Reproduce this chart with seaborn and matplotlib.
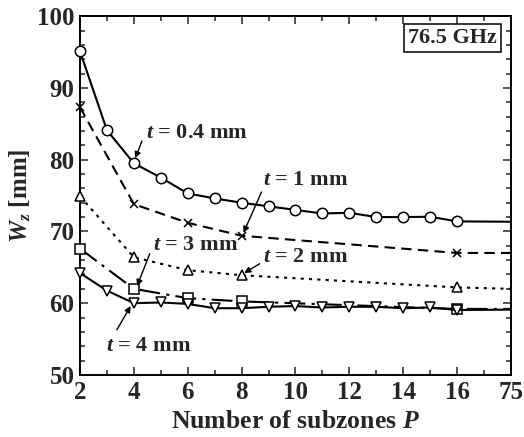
import numpy as np
import pandas as pd
import matplotlib
matplotlib.use("Agg")
import matplotlib.pyplot as plt
import seaborn as sns
from matplotlib.ticker import FixedLocator, MultipleLocator

sns.set_theme(style="ticks")
plt.rcParams['font.family'] = ['Liberation Serif', 'DejaVu Serif']
plt.rcParams['font.weight'] = 'bold'
plt.rcParams['mathtext.fontset'] = 'custom'
plt.rcParams['mathtext.it'] = 'Liberation Serif:italic:bold'
plt.rcParams['mathtext.rm'] = 'Liberation Serif:bold'
plt.rcParams['mathtext.bf'] = 'Liberation Serif:bold'

# ---- data ----
P_full = [2, 3, 4, 5, 6, 7, 8, 9, 10, 11, 12, 13, 14, 15, 16, 75]
P_sparse = [2, 4, 6, 8, 16, 75]
w_t04 = [95.1, 84.1, 79.5, 77.5, 75.3, 74.6, 74.0, 73.5, 73.0, 72.5, 72.6, 72.0, 72.0, 72.05, 71.4, 71.35]
w_t1 = [87.3, 73.8, 71.2, 69.4, 67.0, 67.0]
w_t2 = [74.9, 66.4, 64.6, 63.9, 62.2, 62.0]
w_t3 = [67.6, 62.0, 60.7, 60.25, 59.2, 59.2]
w_t4 = [64.2, 61.75, 60.0, 60.1, 59.9, 59.3, 59.3, 59.5, 59.6, 59.4, 59.5, 59.5, 59.3, 59.4, 59.05, 59.1]
xtick_labels = ["2", "4", "6", "8", "10", "12", "14", "16", "75"]
xtick_values = [2, 4, 6, 8, 10, 12, 14, 16, 75]


def axis_pos(p):
    # broken axis: 2..16 linear, then 75 placed two steps after 16
    return p if p <= 16 else 18


series = [
    ("0.4", P_full, w_t04, 'o', '-', 7.5),
    ("1", P_sparse, w_t1, 'x', (0, (5, 3)), 6),
    ("2", P_sparse, w_t2, '^', (0, (1.5, 2.5)), 7),
    ("3", P_sparse, w_t3, 's', (0, (10, 3, 1.5, 3)), 6.5),
    ("4", P_full, w_t4, 'v', '-', 7),
]

fig, ax = plt.subplots(figsize=(5.24, 4.37), dpi=100)
fig.subplots_adjust(left=0.1527, right=0.975, top=0.963, bottom=0.142)

for name, P, W, mk, ls, ms in series:
    df = pd.DataFrame({"x": [axis_pos(p) for p in P], "W": W})
    n = len(df)
    sns.lineplot(data=df, x="x", y="W", ax=ax, color='black', linewidth=1.5,
                 linestyle=ls, marker=mk, markersize=ms, markerfacecolor='white',
                 markeredgecolor='black', markeredgewidth=1.1,
                 markevery=list(range(n - 1)), clip_on=False, zorder=3)

ax.set_xlim(2, 18)
ax.set_ylim(50, 100)
ax.xaxis.set_major_locator(FixedLocator([axis_pos(v) for v in xtick_values]))
ax.set_xticklabels(xtick_labels)
ax.xaxis.set_minor_locator(MultipleLocator(1))
ax.yaxis.set_major_locator(MultipleLocator(10))
ax.yaxis.set_minor_locator(MultipleLocator(2))
ax.tick_params(which='both', direction='in', top=True, right=True, width=1.1)
ax.tick_params(which='major', length=6, labelsize=18, pad=4)
ax.tick_params(which='minor', length=3.5)
for lab in ax.get_xticklabels() + ax.get_yticklabels():
    lab.set_fontweight('bold')
for sp in ax.spines.values():
    sp.set_linewidth(1.4)
    sp.set_color('black')

ax.set_xlabel(r"Number of subzones $P$", fontsize=18.5, fontweight='bold', labelpad=5)
ax.set_ylabel(r"$W_z$ [mm]", fontsize=18, fontweight='bold', labelpad=3)

ann_fs = 16
arrow = dict(arrowstyle='-|>', color='black', lw=1.0, mutation_scale=9, shrinkA=0, shrinkB=0)
annots = [
    (r"$t$ = 0.4 mm", (4.45, 83.7), (4.3, 82.6), (4.05, 80.2)),
    (r"$t$ = 1 mm", (8.8, 77.2), (8.74, 75.5), (8.07, 69.8)),
    (r"$t$ = 2 mm", (8.78, 66.4), (8.67, 65.5), (8.1, 64.2)),
    (r"$t$ = 3 mm", (4.72, 68.1), (4.59, 66.9), (4.12, 62.4)),
    (r"$t$ = 4 mm", (2.98, 54.0), (3.37, 56.3), (3.88, 59.6)),
]
for txt, tpos, astart, atip in annots:
    ax.text(tpos[0], tpos[1], txt, fontsize=ann_fs, fontweight='bold', ha='left', va='center')
    ax.annotate('', xy=atip, xytext=astart, arrowprops=arrow)

ax.text(0.864, 0.939, "76.5 GHz", transform=ax.transAxes, fontsize=16, fontweight='bold',
        ha='center', va='center',
        bbox=dict(boxstyle='square,pad=0.18', facecolor='white', edgecolor='black', linewidth=1.1))

fig.savefig("out.png", dpi=100)
